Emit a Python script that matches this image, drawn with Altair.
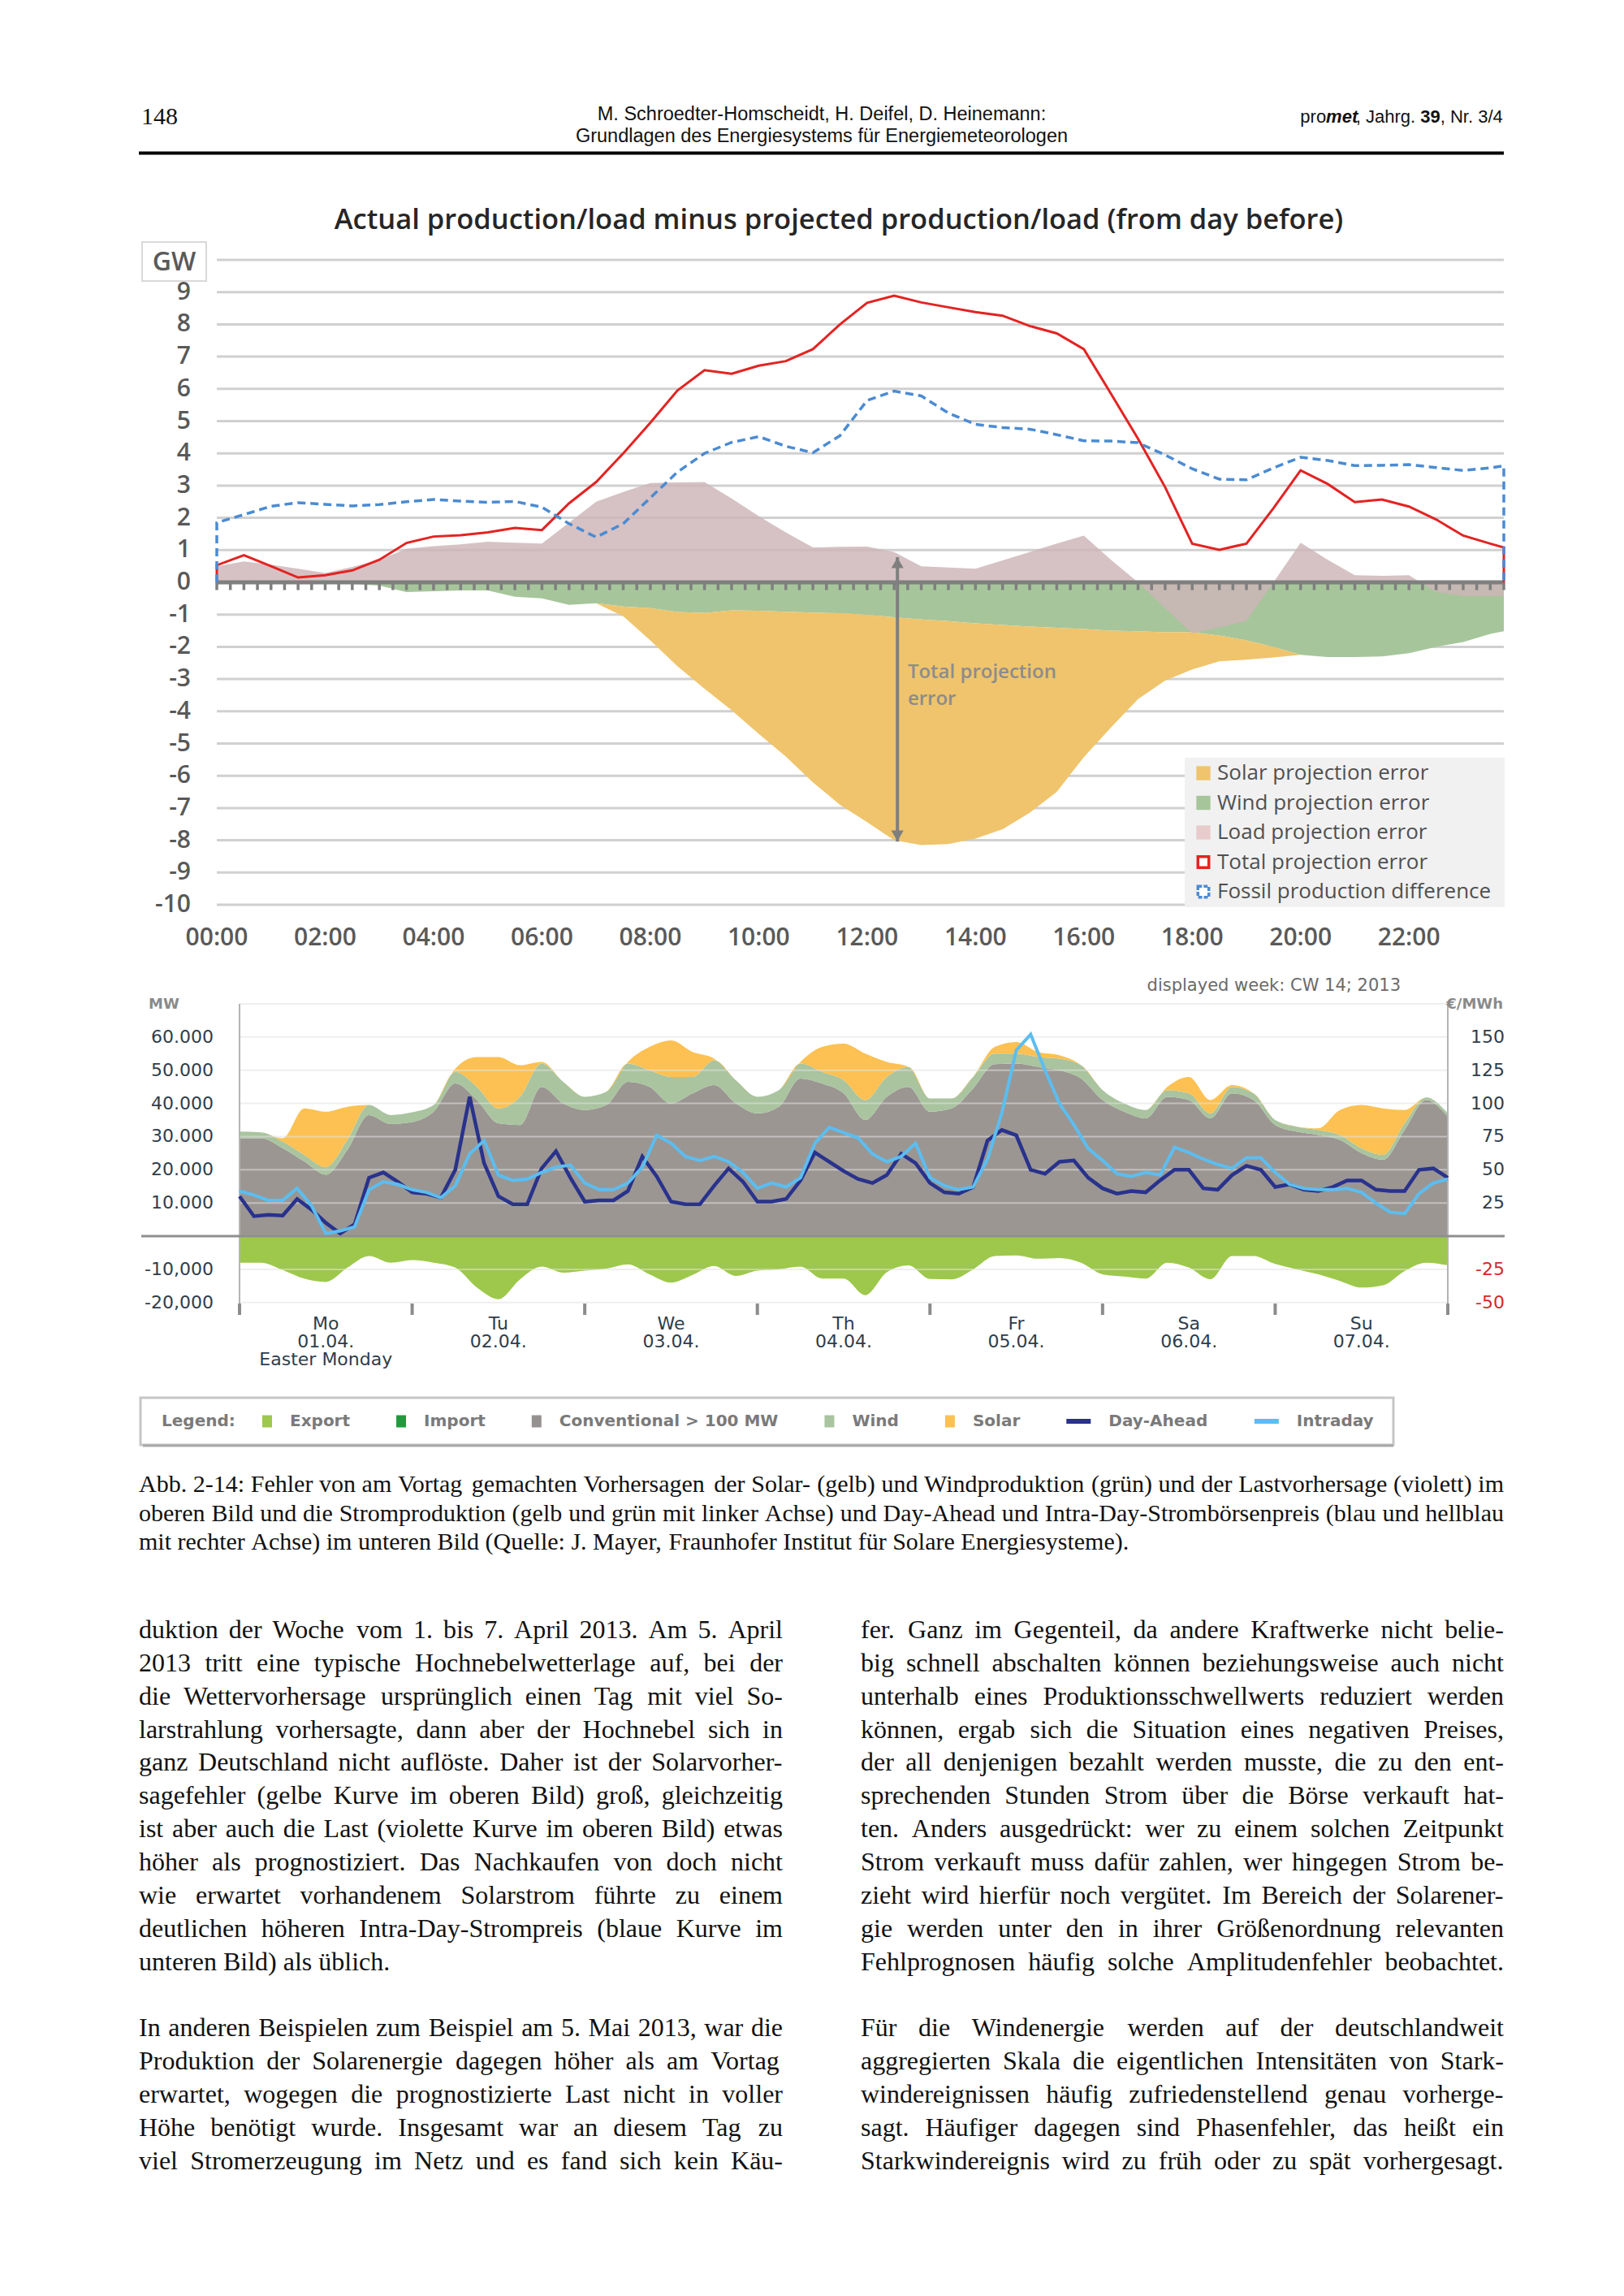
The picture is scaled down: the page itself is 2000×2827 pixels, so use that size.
import altair as alt
import pandas as pd

M = 8
def P(v):
    return v - M

# ======================= UPPER CHART DATA (GW) =======================
top_hours = [h * 0.5 for h in range(48)] + [23.75]
total_error = [0.53, 0.84, 0.50, 0.15, 0.22, 0.37, 0.70, 1.22, 1.42, 1.46, 1.55, 1.69, 1.62,
               2.45, 3.11, 4.00, 4.95, 5.95, 6.58, 6.47, 6.72, 6.86, 7.23, 8.00, 8.67,
               8.89, 8.68, 8.53, 8.38, 8.27, 7.95, 7.72, 7.23, 5.85, 4.45, 2.95, 1.20,
               1.01, 1.20, 2.30, 3.47, 3.05, 2.49, 2.57, 2.35, 1.95, 1.45, 1.20, 1.08]
fossil_difference = [1.85, 2.10, 2.36, 2.47, 2.42, 2.37, 2.41, 2.50, 2.57, 2.52, 2.48, 2.51, 2.33,
                     1.82, 1.40, 1.82, 2.62, 3.42, 4.00, 4.34, 4.52, 4.22, 4.02, 4.55, 5.64,
                     5.93, 5.78, 5.25, 4.90, 4.80, 4.75, 4.58, 4.39, 4.38, 4.33, 3.95, 3.52,
                     3.20, 3.18, 3.55, 3.88, 3.78, 3.62, 3.63, 3.65, 3.56, 3.47, 3.55, 3.61]
load_error = [0.50, 0.65, 0.55, 0.42, 0.29, 0.48, 0.70, 1.04, 1.12, 1.18, 1.26, 1.23, 1.20,
              1.85, 2.50, 2.80, 3.08, 3.10, 3.11, 2.60, 2.05, 1.55, 1.08, 1.10, 1.11,
              0.94, 0.50, 0.46, 0.42, 0.68, 0.94, 1.20, 1.45, 0.70, 0.00, -0.80, -1.58,
              -1.40, -1.20, 0.00, 1.23, 0.70, 0.22, 0.20, 0.22, -0.30, -0.43, -0.43, -0.43]
wind_error = [-0.05, -0.05, -0.05, -0.05, -0.05, -0.05, -0.10, -0.30, -0.28, -0.25, -0.25, -0.45, -0.50,
              -0.70, -0.65, -0.75, -0.80, -0.92, -0.95, -0.87, -0.88, -0.91, -0.94, -0.96, -1.01,
              -1.08, -1.15, -1.20, -1.27, -1.32, -1.37, -1.41, -1.45, -1.50, -1.52, -1.55, -1.55,
              -1.65, -1.80, -2.00, -2.25, -2.32, -2.32, -2.30, -2.20, -2.00, -1.85, -1.60, -1.52]
solar_error = [0, 0, 0, 0, 0, 0, 0, 0, 0, 0, 0, 0, 0,
               0, 0, -0.30, -1.00, -1.68, -2.35, -3.10, -3.82, -4.49, -5.26, -5.94, -6.43,
               -6.92, -7.00, -6.92, -6.68, -6.34, -5.78, -5.09, -3.97, -3.00, -2.10, -1.50, -1.15,
               -0.80, -0.60, -0.33, 0, 0, 0, 0, 0, 0, 0, 0, 0]
gw_grid = list(range(-10, 11))
gw_ticks = [9, 8, 7, 6, 5, 4, 3, 2, 1, 0, -1, -2, -3, -4, -5, -6, -7, -8, -9, -10]
time_ticks = [0, 2, 4, 6, 8, 10, 12, 14, 16, 18, 20, 22]
time_labels = ["00:00", "02:00", "04:00", "06:00", "08:00", "10:00",
               "12:00", "14:00", "16:00", "18:00", "20:00", "22:00"]
quarter_ticks = [q * 0.25 for q in range(96)]
top_title = "Actual production/load minus projected production/load (from day before)"
top_legend = ["Solar projection error", "Wind projection error", "Load projection error",
              "Total projection error", "Fossil production difference"]
arrow_hour, arrow_top, arrow_bottom = 12.56, 0.78, -8.04
annotation_lines = ["Total projection", "error"]
annotation_hour = 12.75
annotation_values = [-2.80, -3.63]

# ======================= LOWER CHART DATA =======================
week_hours = list(range(0, 169, 3))
conventional = [29.5, 29.5, 26.5, 22.5, 18.5, 26.0, 36.5, 33.8,
                34.4, 37.5, 46.0, 41.0, 34.0, 33.5, 45.0, 40.0,
                38.0, 39.5, 46.5, 45.0, 40.0, 43.0, 45.5, 40.0,
                37.0, 39.0, 47.5, 46.0, 43.0, 35.0, 42.0, 45.0,
                37.5, 38.5, 44.5, 51.8, 52.0, 51.0, 50.0, 47.5,
                41.0, 37.5, 35.5, 42.0, 41.0, 35.5, 43.0, 41.0,
                33.5, 31.5, 30.5, 29.0, 25.0, 23.0, 32.0, 41.0, 36.0]
wind = [2.0, 1.8, 2.0, 2.0, 2.3, 3.0, 3.0, 2.7,
        2.9, 2.0, 3.5, 4.0, 4.5, 8.5, 7.0, 6.5,
        4.0, 4.0, 5.5, 5.0, 8.0, 5.0, 7.5, 7.0,
        5.0, 5.0, 4.5, 3.5, 4.0, 6.0, 6.0, 6.0,
        4.0, 3.0, 3.5, 3.2, 3.0, 3.0, 3.5, 4.0,
        3.0, 2.5, 2.5, 2.0, 2.0, 1.5, 2.0, 2.0,
        1.5, 1.5, 1.5, 1.5, 1.5, 1.5, 2.0, 0.8, 1.0]
solar = [0, 0, 1.0, 14.0, 16.7, 10.0, 0, 0,
         0, 0, 1.0, 9.0, 15.5, 9.5, 0.5, 0,
         0, 0, 0.5, 7.0, 11.0, 7.5, 0.5, 0,
         0, 0, 0.5, 7.5, 11.0, 14.0, 4.5, 0,
         0, 0, 0, 2.0, 3.5, 1.5, 1.0, 0,
         0, 0, 0, 1.0, 5.0, 4.0, 0.5, 0,
         0, 0, 0.5, 7.5, 13.0, 14.0, 4.0, 0, 0]
export = [8.0, 8.0, 10.2, 12.8, 13.8, 9.5, 6.0, 8.0,
          7.2, 8.0, 9.5, 15.5, 19.0, 13.0, 9.2, 11.0,
          10.4, 9.8, 8.5, 11.5, 14.0, 11.7, 9.0, 12.0,
          10.4, 10.0, 9.2, 12.8, 12.8, 17.8, 10.9, 8.8,
          12.9, 13.0, 10.0, 6.0, 5.8, 6.8, 6.6, 8.0,
          11.5, 12.2, 12.8, 8.0, 9.5, 13.0, 6.0, 6.0,
          8.4, 10.0, 11.5, 13.5, 15.5, 14.8, 10.5, 8.0, 8.8]
price_hours = list(range(0, 169, 2))
day_ahead = [30, 15, 16, 15.5, 28, 20, 10, 2, 9, 44, 48, 41,
             33, 32, 29, 50, 105, 55, 30, 24, 24, 51, 64, 44,
             26, 27, 27, 34, 60, 45, 26, 24, 24, 38, 51, 41,
             26, 26, 28, 42, 63, 56, 49, 43, 40, 46, 62, 55,
             40, 33, 32, 37, 72, 80, 76, 50, 47, 56, 57, 44,
             36, 32, 34, 33, 42, 50, 50, 36, 35, 46, 53, 50,
             37, 39, 35, 34, 37, 42, 42, 35, 34, 34, 50, 51, 44]
intraday = [34, 31, 27, 27, 36, 23, 2, 4, 7, 35, 41, 39,
            35, 33, 29, 38, 62, 72, 46, 42, 43, 48, 52, 53.5,
            40, 35, 35, 40, 52, 76, 70, 60, 57, 60, 56, 48,
            36, 40, 37, 44, 70, 82, 78, 74, 62, 56, 60, 70,
            44, 38, 35, 37, 58, 93, 140, 152, 125, 100, 84, 66,
            57, 47, 45, 48, 46, 67, 63, 58, 54, 51, 59, 59,
            48, 39, 36, 35, 35, 36, 33, 25, 18, 17, 32, 40, 43]
mw_grid = [70000, 60000, 50000, 40000, 30000, 20000, 10000, -10000, -20000]
mw_ticks = [60000, 50000, 40000, 30000, 20000, 10000, -10000, -20000]
mw_labels = ["60.000", "50.000", "40.000", "30.000", "20.000", "10.000", "-10,000", "-20,000"]
price_ticks = [150, 125, 100, 75, 50, 25, -25, -50]
price_labels = ["150", "125", "100", "75", "50", "25", "-25", "-50"]
day_bounds = [0, 24, 48, 72, 96, 120, 144, 168]
day_names = ["Mo", "Tu", "We", "Th", "Fr", "Sa", "Su"]
day_dates = ["01.04.", "02.04.", "03.04.", "04.04.", "05.04.", "06.04.", "07.04."]
holiday_note = "Easter Monday"
week_note = "displayed week: CW 14; 2013"
legend2_labels = ["Export", "Import", "Conventional > 100 MW", "Wind", "Solar", "Day-Ahead", "Intraday"]

# ======================= PAGE TEXT =======================
header_left = "148"
header_center = ["M. Schroedter-Homscheidt, H. Deifel, D. Heinemann:",
                 "Grundlagen des Energiesystems für Energiemeteorologen"]
header_right = [("pro", "normal", "normal"), ("met", "bold", "italic"), (", Jahrg. ", "normal", "normal"),
                ("39", "bold", "normal"), (", Nr. 3/4", "normal", "normal")]
caption_lines = [
    "Abb. 2-14: Fehler von am Vortag gemachten Vorhersagen der Solar- (gelb) und Windproduktion (grün) und der Lastvorhersage (violett) im",
    "oberen Bild und die Stromproduktion (gelb und grün mit linker Achse) und Day-Ahead und Intra-Day-Strombörsenpreis (blau und hellblau",
    "mit rechter Achse) im unteren Bild (Quelle: J. Mayer, Fraunhofer Institut für Solare Energiesysteme).",
]
body_left = [
    "duktion der Woche vom 1. bis 7. April 2013. Am 5. April",
    "2013 tritt eine typische Hochnebelwetterlage auf, bei der",
    "die Wettervorhersage ursprünglich einen Tag mit viel So-",
    "larstrahlung vorhersagte, dann aber der Hochnebel sich in",
    "ganz Deutschland nicht auflöste. Daher ist der Solarvorher-",
    "sagefehler (gelbe Kurve im oberen Bild) groß, gleichzeitig",
    "ist aber auch die Last (violette Kurve im oberen Bild) etwas",
    "höher als prognostiziert. Das Nachkaufen von doch nicht",
    "wie erwartet vorhandenem Solarstrom führte zu einem",
    "deutlichen höheren Intra-Day-Strompreis (blaue Kurve im",
    "unteren Bild) als üblich.",
    "In anderen Beispielen zum Beispiel am 5. Mai 2013, war die",
    "Produktion der Solarenergie dagegen höher als am Vortag",
    "erwartet, wogegen die prognostizierte Last nicht in voller",
    "Höhe benötigt wurde. Insgesamt war an diesem Tag zu",
    "viel Stromerzeugung im Netz und es fand sich kein Käu-",
]
body_right = [
    "fer. Ganz im Gegenteil, da andere Kraftwerke nicht belie-",
    "big schnell abschalten können beziehungsweise auch nicht",
    "unterhalb eines Produktionsschwellwerts reduziert werden",
    "können, ergab sich die Situation eines negativen Preises,",
    "der all denjenigen bezahlt werden musste, die zu den ent-",
    "sprechenden Stunden Strom über die Börse verkauft hat-",
    "ten. Anders ausgedrückt: wer zu einem solchen Zeitpunkt",
    "Strom verkauft muss dafür zahlen, wer hingegen Strom be-",
    "zieht wird hierfür noch vergütet. Im Bereich der Solarener-",
    "gie werden unter den in ihrer Größenordnung relevanten",
    "Fehlprognosen häufig solche Amplitudenfehler beobachtet.",
    "Für die Windenergie werden auf der deutschlandweit",
    "aggregierten Skala die eigentlichen Intensitäten von Stark-",
    "windereignissen häufig zufriedenstellend genau vorherge-",
    "sagt. Häufiger dagegen sind Phasenfehler, das heißt ein",
    "Starkwindereignis wird zu früh oder zu spät vorhergesagt.",
]

# ======================= STYLE =======================
SOLAR_C = "#efc46c"
WIND_C = "#a6c59b"
LOAD_C = "#cdb5b7"
RED = "#e32322"
BLUE = "#4b8bd3"
AXG = "#7f7f7f"
LBL = "#595959"
OPEN = "Open Sans"
VER = "DejaVu Sans"
SERIF = "Liberation Serif"
SANS = "Liberation Sans"

# font metric tables (em/1000) for text layout
TIMES = dict(zip("abcdefghijklmnopqrstuvwxyz",
                 [444, 500, 444, 500, 444, 333, 500, 500, 278, 278, 500, 278, 778, 500, 500, 500, 500, 333, 389, 278, 500, 500, 722, 500, 500, 444]))
TIMES.update(dict(zip("ABCDEFGHIJKLMNOPQRSTUVWXYZ",
                      [722, 667, 667, 722, 611, 556, 722, 722, 333, 389, 722, 611, 889, 722, 722, 556, 722, 667, 556, 611, 722, 722, 944, 722, 722, 611])))
TIMES.update({d: 500 for d in "0123456789"})
TIMES.update({" ": 250, ".": 250, ",": 250, "-": 333, ":": 278, ";": 278, "(": 333, ")": 333, "/": 278,
              "ä": 444, "ö": 500, "ü": 500, "Ä": 722, "Ö": 722, "Ü": 722, "ß": 500})
ARIAL = {"p": 556, "r": 333, "o": 556, "m": 833, "e": 556, "t": 278, ",": 278, " ": 278, "J": 500, "a": 556,
         "h": 556, "g": 556, ".": 278, "N": 722, "/": 278, "3": 556, "4": 556, "9": 556}
DJB = {" ": 348, "-": 415, ":": 400, ">": 838, "A": 774, "C": 734, "D": 830, "E": 683, "I": 372, "L": 637,
       "M": 995, "S": 721, "W": 1103, "a": 675, "d": 716, "e": 678, "g": 716, "h": 712, "i": 343, "l": 343,
       "m": 1042, "n": 712, "o": 687, "p": 716, "r": 493, "t": 478, "v": 652, "x": 645, "y": 652}
DJB.update({d: 696 for d in "0123456789"})

def width(s, table, fs, default=500):
    return sum(table.get(c, default) for c in s) / 1000.0 * fs

def justify(lines, x0, x1, ys, fs, ends):
    rows = []
    avail = x1 - x0
    for i, (line, y) in enumerate(zip(lines, ys)):
        words = line.split(" ")
        ws = [width(w, TIMES, fs) for w in words]
        tot = sum(ws)
        sp = 0.25 * fs
        n = len(words)
        gap = (avail - tot) / (n - 1) if n > 1 else sp
        if i in ends and tot + sp * (n - 1) < 0.93 * avail:
            gap = sp
        x = x0
        for w, wd in zip(words, ws):
            rows.append({"t": w, "x": P(x), "y": P(y)})
            x += wd + gap
    return pd.DataFrame(rows)

one = pd.DataFrame({"k": [0]})

def box(x0, x1, y0, y1, fill, stroke=None, sw=0):
    kw = dict(fill=fill)
    if stroke:
        kw.update(stroke=stroke, strokeWidth=sw)
    return alt.Chart(one).mark_rect(**kw).encode(
        x=alt.value(P(x0)), x2=alt.value(P(x1)), y=alt.value(P(y0)), y2=alt.value(P(y1)))

def ptext(t, x, y, size, font, color, align="left", weight="normal", style="normal"):
    return alt.Chart(pd.DataFrame({"t": [t]})).mark_text(
        align=align, baseline="middle", font=font, fontSize=size, fontWeight=weight,
        fontStyle=style, color=color).encode(x=alt.value(P(x)), y=alt.value(P(y)), text="t:N")

def wtext(df, size, font, color):
    return alt.Chart(df).mark_text(align="left", baseline="middle", font=font, fontSize=size, color=color).encode(
        x=alt.X("x:Q", scale=None, axis=None), y=alt.Y("y:Q", scale=None, axis=None), text="t:N")

layers = []

# ----------------------- page header -----------------------
layers.append(ptext(header_left, 174, 144, 30, SERIF, "#111"))
layers.append(ptext(header_center[0], 1012, 141, 23.5, SANS, "#111", align="center"))
layers.append(ptext(header_center[1], 1012, 168, 23.5, SANS, "#111", align="center"))
tot_w = sum(width(s, ARIAL, 22) for s, _, _ in header_right)
xh = 1852 - tot_w
for s, wgt, sty in header_right:
    layers.append(ptext(s.strip(), xh, 144, 22, SANS, "#111", weight=wgt, style=sty))
    xh += width(s, ARIAL, 22)
layers.append(alt.Chart(one).mark_rule(color="#000", strokeWidth=4).encode(
    x=alt.value(P(171)), x2=alt.value(P(1852)), y=alt.value(P(188.5))))

# ----------------------- upper chart -----------------------
xt = alt.Scale(domain=[0, 23.75], range=[P(267), P(1852)], nice=False, zero=False)
yt = alt.Scale(domain=[-10, 10], range=[P(1114), P(320)], nice=False, zero=False)
XT = lambda f: alt.X(f, scale=xt, axis=None)
YT = lambda f: alt.Y(f, scale=yt, axis=None)

df_top = pd.DataFrame({"hour": top_hours, "total": total_error, "fossil": fossil_difference,
                       "load": load_error, "wind": wind_error, "solar": solar_error})
df_top["zero"] = 0.0
df_top["solar_end"] = df_top["wind"] + df_top["solar"]

layers.append(ptext(top_title, 1033, 272, 34.5, OPEN, "#262626", align="center", weight=600))
layers.append(box(175, 254, 298, 346, "white", "#d9d9d9", 2))
layers.append(ptext("GW", 214.5, 323, 32, OPEN, LBL, align="center", weight=600))

layers.append(alt.Chart(pd.DataFrame({"v": gw_grid})).mark_rule(color="#d0d0d0", strokeWidth=3).encode(
    x=alt.value(P(267)), x2=alt.value(P(1852)), y=YT("v:Q")))
base = alt.Chart(df_top)
layers.append(base.mark_area(color=WIND_C).encode(x=XT("hour:Q"), y=YT("zero:Q"), y2="wind:Q"))
layers.append(base.mark_area(color=SOLAR_C).encode(x=XT("hour:Q"), y=YT("wind:Q"), y2="solar_end:Q"))
layers.append(base.mark_area(color=LOAD_C, opacity=0.82).encode(x=XT("hour:Q"), y=YT("zero:Q"), y2="load:Q"))

layers.append(alt.Chart(pd.DataFrame({"a": [0.0], "b": [23.75], "y": [0.0]})).mark_rule(
    color=AXG, strokeWidth=5).encode(x=XT("a:Q"), x2="b:Q", y=YT("y:Q")))
layers.append(alt.Chart(pd.DataFrame({"h": quarter_ticks, "y0": 0.0, "y1": -0.24})).mark_rule(
    color=AXG, strokeWidth=3.5).encode(x=XT("h:Q"), y=YT("y0:Q"), y2="y1:Q"))

def outline(vals):
    return pd.DataFrame({"hour": [0.0] + top_hours + [top_hours[-1]],
                         "v": [0.0] + list(vals) + [0.0],
                         "i": list(range(len(vals) + 2))})

layers.append(alt.Chart(outline(total_error)).mark_line(color=RED, strokeWidth=3).encode(
    x=XT("hour:Q"), y=YT("v:Q"), order="i:Q"))
layers.append(alt.Chart(outline(fossil_difference)).mark_line(color=BLUE, strokeWidth=3.5, strokeDash=[10, 6]).encode(
    x=XT("hour:Q"), y=YT("v:Q"), order="i:Q"))

df_arrow = pd.DataFrame({"h": [arrow_hour], "a": [arrow_top], "b": [arrow_bottom]})
layers.append(alt.Chart(df_arrow).mark_rule(color=AXG, strokeWidth=4).encode(x=XT("h:Q"), y=YT("a:Q"), y2="b:Q"))
layers.append(alt.Chart(df_arrow).mark_point(shape="triangle-up", filled=True, size=230, color=AXG, opacity=1, yOffset=7).encode(
    x=XT("h:Q"), y=YT("a:Q")))
layers.append(alt.Chart(df_arrow).mark_point(shape="triangle-down", filled=True, size=230, color=AXG, opacity=1, yOffset=-7).encode(
    x=XT("h:Q"), y=YT("b:Q")))
layers.append(alt.Chart(pd.DataFrame({"h": [annotation_hour] * 2, "v": annotation_values, "t": annotation_lines})).mark_text(
    align="left", baseline="middle", font=OPEN, fontSize=24, fontWeight=600, color="#8c8c8c").encode(
    x=XT("h:Q"), y=YT("v:Q"), text="t:N"))

layers.append(alt.Chart(pd.DataFrame({"v": gw_ticks, "t": [str(v) for v in gw_ticks]})).mark_text(
    align="right", baseline="middle", font=OPEN, fontSize=30, fontWeight=600, color=LBL).encode(
    x=alt.value(P(235)), y=YT("v:Q"), text="t:N"))
layers.append(alt.Chart(pd.DataFrame({"h": time_ticks, "t": time_labels})).mark_text(
    align="center", baseline="middle", font=OPEN, fontSize=30, fontWeight=600, color=LBL).encode(
    x=XT("h:Q"), y=alt.value(P(1155)), text="t:N"))

# legend of upper chart
layers.append(box(1459, 1853, 933, 1117, "#f1f1f1"))
ly = alt.Scale(type="point", domain=top_legend, range=[P(952), P(1098)], padding=0)
df_leg = pd.DataFrame({"lab": top_legend, "c": [SOLAR_C, WIND_C, "#e8cbcb", "white", "white"]})
layers.append(alt.Chart(df_leg).mark_text(align="left", baseline="middle", font=OPEN, fontSize=26, color="#505050").encode(
    x=alt.value(P(1499)), y=alt.Y("lab:N", scale=ly, axis=None), text="lab:N"))
layers.append(alt.Chart(df_leg.iloc[:3]).mark_square(size=300, opacity=1).encode(
    x=alt.value(P(1482)), y=alt.Y("lab:N", scale=ly, axis=None), color=alt.Color("c:N", scale=None)))
layers.append(alt.Chart(df_leg.iloc[3:4]).mark_square(size=180, fill="white", stroke=RED, strokeWidth=3.5, opacity=1).encode(
    x=alt.value(P(1482)), y=alt.Y("lab:N", scale=ly, axis=None)))
layers.append(alt.Chart(df_leg.iloc[4:5]).mark_square(size=180, fill="white", stroke=BLUE, strokeWidth=3.5,
                                                      strokeDash=[5, 2], opacity=1).encode(
    x=alt.value(P(1482)), y=alt.Y("lab:N", scale=ly, axis=None)))

# ----------------------- lower chart -----------------------
xb = alt.Scale(domain=[0, 168], range=[P(295), P(1783)], nice=False, zero=False)
yb = alt.Scale(domain=[-23000, 70000], range=[P(1616), P(1236)], nice=False, zero=False)
yp = alt.Scale(domain=[-57.5, 175], range=[P(1616), P(1236)], nice=False, zero=False)
XB = lambda f: alt.X(f, scale=xb, axis=None)
YB = lambda f: alt.Y(f, scale=yb, axis=None)
YP = lambda f: alt.Y(f, scale=yp, axis=None)

df_b = pd.DataFrame({"hour": week_hours})
df_b["zero"] = 0.0
df_b["c"] = [v * 1000 for v in conventional]
df_b["cw"] = [(a + b) * 1000 for a, b in zip(conventional, wind)]
df_b["t"] = [(a + b + s) * 1000 for a, b, s in zip(conventional, wind, solar)]
df_b["e"] = [-v * 1000 for v in export]
bb = alt.Chart(df_b)
layers.append(bb.mark_area(color="#9b9692", interpolate="monotone").encode(x=XB("hour:Q"), y=YB("zero:Q"), y2="c:Q"))
layers.append(bb.mark_area(color="#a9c49f", interpolate="monotone").encode(x=XB("hour:Q"), y=YB("c:Q"), y2="cw:Q"))
layers.append(bb.mark_area(color="#fcc152", interpolate="monotone").encode(x=XB("hour:Q"), y=YB("cw:Q"), y2="t:Q"))
layers.append(bb.mark_area(color="#9dc84c", interpolate="monotone").encode(x=XB("hour:Q"), y=YB("e:Q"), y2="zero:Q"))

layers.append(alt.Chart(pd.DataFrame({"v": mw_grid})).mark_rule(color="#e2e2e2", strokeWidth=2, opacity=0.55).encode(
    x=alt.value(P(295)), x2=alt.value(P(1783)), y=YB("v:Q")))
layers.append(alt.Chart(pd.DataFrame({"h": [0, 168]})).mark_rule(color="#b4b4b4", strokeWidth=2).encode(
    x=XB("h:Q"), y=alt.value(P(1236)), y2=alt.value(P(1618))))
layers.append(alt.Chart(pd.DataFrame({"v": [0]})).mark_rule(color="#8f8f8f", strokeWidth=3).encode(
    x=alt.value(P(174)), x2=alt.value(P(1853)), y=YB("v:Q")))
layers.append(alt.Chart(pd.DataFrame({"h": day_bounds})).mark_rule(color="#8c8c8c", strokeWidth=4).encode(
    x=XB("h:Q"), y=alt.value(P(1605)), y2=alt.value(P(1619))))

df_p = pd.DataFrame({"hour": price_hours, "da": day_ahead, "id": intraday})
layers.append(alt.Chart(df_p).mark_line(color="#29328c", strokeWidth=4.5).encode(x=XB("hour:Q"), y=YP("da:Q")))
layers.append(alt.Chart(df_p).mark_line(color="#5cbdf0", strokeWidth=4).encode(x=XB("hour:Q"), y=YP("id:Q")))

layers.append(alt.Chart(pd.DataFrame({"v": mw_ticks, "t": mw_labels})).mark_text(
    align="right", baseline="middle", font=VER, fontSize=22, color="#2f3d4b").encode(
    x=alt.value(P(263)), y=YB("v:Q"), text="t:N"))
layers.append(alt.Chart(pd.DataFrame({"v": price_ticks, "t": price_labels,
                                      "c": ["#2f3d4b" if v > 0 else "#d42a2a" for v in price_ticks]})).mark_text(
    align="right", baseline="middle", font=VER, fontSize=22).encode(
    x=alt.value(P(1853)), y=YP("v:Q"), text="t:N", color=alt.Color("c:N", scale=None)))
layers.append(ptext("MW", 183, 1237, 18, VER, "#8a8a8a", weight="bold"))
layers.append(ptext("€/MWh", 1851, 1237, 18, VER, "#8a8a8a", align="right", weight="bold"))
layers.append(ptext(week_note, 1725, 1214, 21, VER, "#6b6b6b", align="right"))

day_rows = []
for k in range(7):
    day_rows.append({"h": 12 + 24 * k, "y": P(1630), "t": day_names[k]})
    day_rows.append({"h": 12 + 24 * k, "y": P(1652), "t": day_dates[k]})
day_rows.append({"h": 12, "y": P(1674), "t": holiday_note})
layers.append(alt.Chart(pd.DataFrame(day_rows)).mark_text(
    align="center", baseline="middle", font=VER, fontSize=22, color="#2f3d4b").encode(
    x=XB("h:Q"), y=alt.Y("y:Q", scale=None, axis=None), text="t:N"))

# legend of lower chart
layers.append(box(173, 1716, 1721, 1779, "white", "#c6c6c6", 3))
layers.append(alt.Chart(one).mark_rule(color="#a8a8a8", strokeWidth=3).encode(
    x=alt.value(P(176)), x2=alt.value(P(1716)), y=alt.value(P(1780))))
L2FS = 20
leg2_colors = ["#9dc84c", "#1f9a3c", "#959190", "#a9c49f", "#fcc152", "#29328c", "#5cbdf0"]
leg2_line = [False, False, False, False, False, True, True]
sw_rows, tx_rows = [], []
tx_rows.append({"t": "Legend:", "x": P(199), "y": P(1750)})
xx = 323
for lab, col, isline in zip(legend2_labels, leg2_colors, leg2_line):
    w = 30 if isline else 12
    h = 3 if isline else 7.5
    sw_rows.append({"x0": P(xx), "x1": P(xx + w), "y0": P(1750 - h), "y1": P(1750 + h), "c": col})
    tx = xx + w + 22
    tx_rows.append({"t": lab, "x": P(tx), "y": P(1750)})
    xx = tx + width(lab, DJB, L2FS, 680) + 57
layers.append(alt.Chart(pd.DataFrame(sw_rows)).mark_rect().encode(
    x=alt.X("x0:Q", scale=None, axis=None), x2="x1:Q", y=alt.Y("y0:Q", scale=None, axis=None), y2="y1:Q",
    color=alt.Color("c:N", scale=None)))
layers.append(alt.Chart(pd.DataFrame(tx_rows)).mark_text(
    align="left", baseline="middle", font=VER, fontSize=L2FS, fontWeight="bold", color="#7a7a7a").encode(
    x=alt.X("x:Q", scale=None, axis=None), y=alt.Y("y:Q", scale=None, axis=None), text="t:N"))

# ----------------------- caption and body -----------------------
cap_df = justify(caption_lines, 171, 1852, [1828, 1864, 1899], 30, {2})
layers.append(wtext(cap_df, 30, SERIF, "#111"))
slots = list(range(11)) + list(range(12, 17))
body_ys = [2007 + 40.85 * s for s in slots]
layers.append(wtext(justify(body_left, 171, 964, body_ys, 32, {10}), 32, SERIF, "#111"))
layers.append(wtext(justify(body_right, 1060, 1852, body_ys, 32, {10, 15}), 32, SERIF, "#111"))

chart = alt.layer(*layers).resolve_scale(x="independent", y="independent").properties(
    width=1870, height=2740, autosize=alt.AutoSizeParams(type="none"), padding=0
).configure_view(stroke=None)

chart.save("out.html", embed_options={"renderer": "svg", "actions": False})
